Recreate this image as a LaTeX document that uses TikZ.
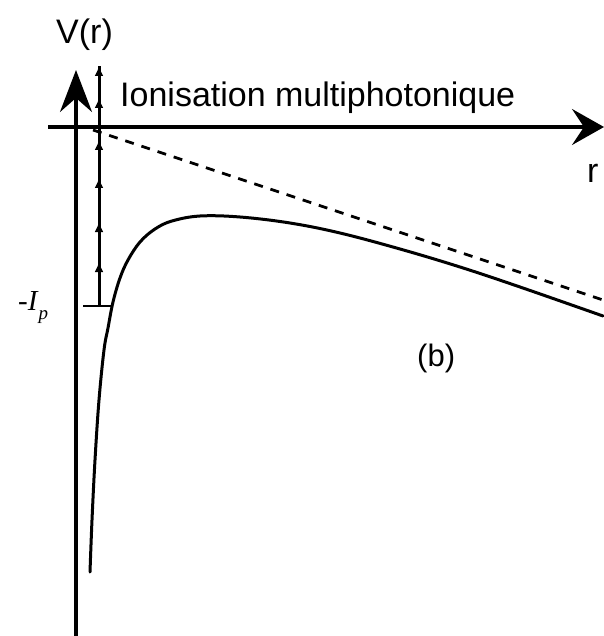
\documentclass[tikz,border=0pt]{standalone}
\usepackage{fontspec}
\setmainfont{Liberation Sans}
\newfontfamily\serifit{Liberation Serif}
\usetikzlibrary{arrows.meta}
\begin{document}
\begin{tikzpicture}[x=1pt,y=-1pt,
  axis/.style={line width=3.2pt},
  vtip/.style={-{Stealth[length=42pt,width=32pt,inset=14pt]}},
  htip/.style={-{Stealth[length=32pt,width=36pt,inset=12pt]}},
  photonline/.style={line width=3pt},
  photon/.style={line width=3pt,-{Latex[length=10pt,width=9pt]}},
  lbl/.style={inner sep=0pt,anchor=base west}]
\useasboundingbox (0,0) rectangle (603,636);
% axes
\coordinate (v0) at (76,636);
\coordinate (v1) at (76,70);
\coordinate (h0) at (48,127);
\coordinate (h1) at (604,127);
\draw[axis,vtip] (v0) -- (v1);
\draw[axis,htip] (h0) -- (h1);
% labels
\node[lbl] (vr) at (56,44) {\fontsize{34}{34}\selectfont V(r)};
\node[lbl] (rr) at (587,183) {\fontsize{34}{34}\selectfont r};
\node[lbl] (ion) at (120,107) {\fontsize{34}{34}\selectfont Ionisation multiphotonique};
\node[lbl] (bb) at (417,366) {\fontsize{31}{31}\selectfont (b)};
\node[lbl] (ip) at (18,310) {\serifit\fontsize{29}{29}\selectfont -\textit{I}\raisebox{-9pt}{\fontsize{19}{19}\selectfont\textit{p}}};
% dashed line
\coordinate (d0) at (93,130);
\coordinate (d1) at (603,300);
\draw[line width=2.8pt,dash pattern=on 9pt off 8pt] (d0) -- (d1);
% potential curve
\draw[line width=3pt,line cap=round] plot[smooth,tension=0.6] coordinates {
 (90,572) (92,520) (95,460) (99,400) (104,350) (108,328) (113,302) (120,278)
 (128,260) (140,242) (155,229) (172,221) (200,216) (240,217) (290,223)
 (340,233) (400,249) (460,267) (520,287) (603,316)};
% ground level bar
\coordinate (g0) at (83,306);
\coordinate (g1) at (113,306);
\draw[line width=2.8pt] (g0) -- (g1);
% multiphoton steps
\coordinate (p0) at (99,306);
\coordinate (p1) at (99,262);
\coordinate (p2) at (99,222);
\coordinate (p3) at (99,178);
\coordinate (p4) at (99,140);
\coordinate (p5) at (99,98);
\coordinate (p6) at (99,66);
\draw[photonline] (p0) -- (p6);
\draw[photon] (p0) -- (p1);
\draw[photon] (p1) -- (p2);
\draw[photon] (p2) -- (p3);
\draw[photon] (p3) -- (p4);
\draw[photon] (p4) -- (p5);
\draw[photon] (p5) -- (p6);
\end{tikzpicture}
\end{document}
